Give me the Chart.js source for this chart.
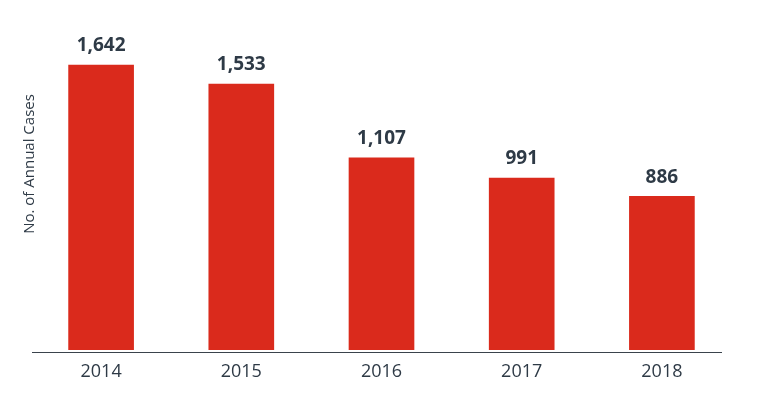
<!DOCTYPE html>
<html>
<head>
<meta charset="utf-8">
<script src="https://cdn.jsdelivr.net/npm/chart.js@4.4.8/dist/chart.umd.min.js"></script>
<style>
  html, body { margin: 0; padding: 0; background: #fff; }
</style>
</head>
<body>
<canvas id="myChart" width="758" height="410"></canvas>
<script>
  // data
  const years = ['2014', '2015', '2016', '2017', '2018'];
  const cases = [1642, 1533, 1107, 991, 886];
  const yTitle = 'No. of Annual Cases';

  const textColor = '#2e3a46';
  const barColor = '#da2a1c';

  // value labels above the bars + the baseline + rotated y title
  const decorPlugin = {
    id: 'decor',
    afterDatasetsDraw(chart) {
      const c = chart.ctx;
      const meta = chart.getDatasetMeta(0);
      c.save();
      c.fillStyle = textColor;
      c.font = 'bold 19px "Open Sans"';
      c.textAlign = 'center';
      c.textBaseline = 'middle';
      meta.data.forEach((bar, i) => {
        c.fillText(cases[i].toLocaleString('en-US'), bar.x, bar.y - 19);
      });

      // baseline, a bit under the bars
      const y0 = chart.scales.y.getPixelForValue(0) + 2.5;
      c.strokeStyle = '#3a434c';
      c.lineWidth = 1.2;
      c.beginPath();
      c.moveTo(32, y0);
      c.lineTo(722, y0);
      c.stroke();

      // y title
      c.translate(30, 164);
      c.rotate(-Math.PI / 2);
      c.font = '15px "Open Sans"';
      c.fillStyle = textColor;
      c.fillText(yTitle, 0, 0);
      c.restore();
    }
  };

  new Chart(document.getElementById('myChart'), {
    type: 'bar',
    data: {
      labels: years,
      datasets: [{
        data: cases,
        backgroundColor: barColor,
        borderWidth: 0,
        barThickness: 65
      }]
    },
    options: {
      responsive: false,
      animation: false,
      devicePixelRatio: 1,
      layout: { padding: { left: 31, right: 26, top: 30, bottom: 0 } },
      plugins: {
        legend: { display: false },
        tooltip: { enabled: false }
      },
      scales: {
        x: {
          grid: { display: false, drawTicks: false },
          border: { display: false },
          ticks: {
            color: textColor,
            font: { family: 'Open Sans', size: 18 },
            padding: 11
          },
          afterFit(s) { s.height = 60; }
        },
        y: {
          display: false,
          min: 0,
          max: 1844
        }
      }
    },
    plugins: [decorPlugin]
  });
</script>
</body>
</html>
